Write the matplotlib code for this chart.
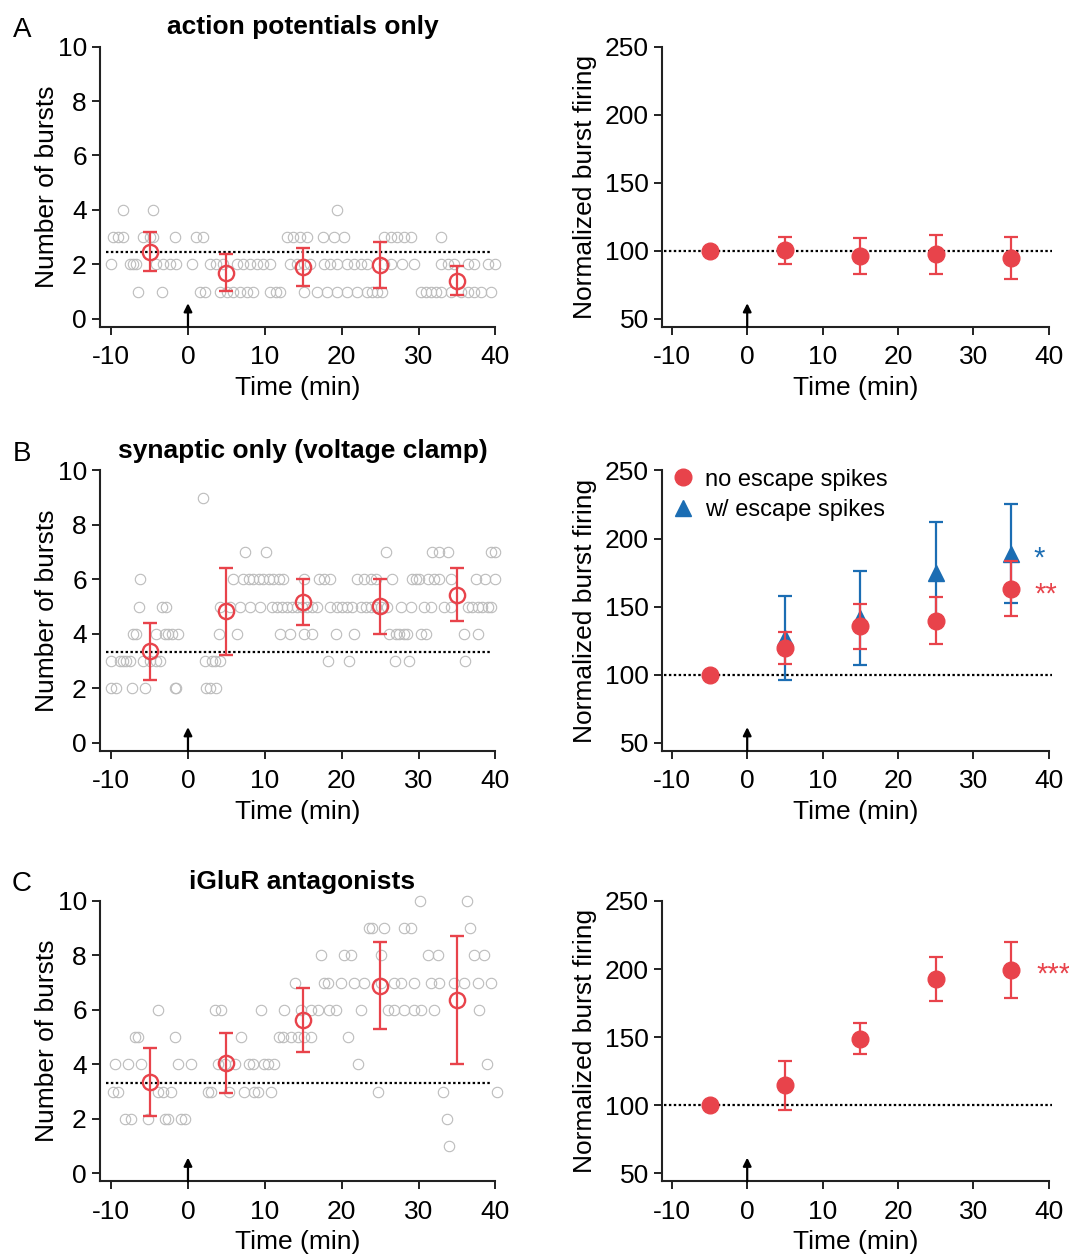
import matplotlib
matplotlib.use("Agg")
import matplotlib.pyplot as plt
from matplotlib.lines import Line2D

plt.rcParams['font.family'] = ['Liberation Sans', 'DejaVu Sans']
plt.rcParams['axes.unicode_minus'] = False

RED = '#E8434B'
BLUE = '#1B6DB3'
GRAY = '#bcbcbc'

# time points (min) of the binned means
times = [-5, 5, 15, 25, 35]
esc_times = [5, 15, 25, 35]

# individual recordings: burst count -> time points
a_points = {
    4: [-8.4, -4.5, 19.4],
    3: [-9.8, -9.1, -8.4, -5.8, -5.0, -4.5, -1.7, 1.1, 2.0, 12.9, 13.7, 14.6, 15.5, 17.5,
        19.0, 20.3, 25.5, 26.4, 27.2, 28.1, 29.0, 32.9],
    2: [-10.0, -7.6, -7.1, -6.7, -4.1, -3.2, -2.4, -1.5, 0.5, 2.9, 3.7, 4.6, 6.4, 7.2, 8.1,
        9.0, 9.8, 10.7, 13.3, 14.2, 15.1, 15.9, 17.7, 18.5, 19.4, 20.7, 21.6, 22.5, 23.3,
        25.5, 26.4, 27.9, 29.4, 32.9, 33.8, 34.6, 36.4, 37.2, 39.0, 39.9],
    1: [-6.5, -3.4, 1.6, 2.2, 4.2, 5.1, 5.9, 6.8, 7.7, 8.5, 10.7, 11.4, 12.0, 15.1, 16.8,
        18.1, 19.4, 20.7, 22.0, 23.3, 24.0, 24.6, 25.3, 30.3, 30.9, 31.6, 32.2, 32.9, 34.2,
        35.5, 36.4, 37.2, 38.1, 39.4],
}
b_points = {
    9: [1.9],
    7: [7.4, 10.1, 25.7, 31.8, 32.7, 33.8, 39.4, 40.0],
    6: [-6.2, 5.9, 7.2, 7.9, 8.5, 9.2, 9.8, 10.5, 11.1, 11.8, 12.4, 15.1, 17.0, 17.7, 18.5,
        22.0, 22.9, 23.8, 24.4, 26.6, 29.2, 29.6, 30.1, 31.2, 32.0, 32.7, 34.2, 37.5, 38.6, 39.9],
    5: [-6.4, -3.4, -2.8, 4.2, 5.5, 6.8, 8.1, 9.4, 10.9, 11.6, 12.2, 12.9, 13.5, 14.2, 14.8,
        15.5, 16.1, 16.8, 18.5, 19.4, 20.1, 20.7, 21.4, 22.5, 23.1, 23.8, 24.4, 25.1, 25.9,
        27.7, 29.0, 30.7, 31.6, 33.3, 34.2, 36.4, 37.0, 37.7, 38.3, 39.0, 39.4],
    4: [-7.1, -6.7, -4.1, -3.0, -2.6, -2.1, -1.3, 4.0, 6.4, 12.0, 13.3, 15.1, 16.1, 19.2,
        21.6, 26.1, 27.0, 27.5, 28.1, 28.5, 30.3, 30.9, 35.9, 37.7],
    3: [-10.0, -8.9, -8.4, -8.0, -7.6, -5.8, -5.0, -4.1, -3.7, 2.2, 3.1, 3.5, 4.2, 18.2,
        20.9, 26.9, 28.8, 36.0],
    2: [-10.0, -9.3, -7.3, -5.6, -1.7, -1.5, 2.4, 2.9, 3.7],
}
c_points = {
    10: [30.2, 36.3],
    9: [23.6, 24.0, 25.5, 28.1, 29.0, 36.7],
    8: [17.3, 20.3, 21.2, 25.1, 31.2, 32.5, 37.2, 38.5],
    7: [13.9, 17.7, 18.2, 19.9, 21.6, 22.9, 25.1, 26.8, 27.7, 29.4, 31.6, 32.7, 34.6, 35.9,
        37.7, 39.4],
    6: [-3.9, 3.5, 4.3, 9.5, 12.5, 14.7, 16.0, 16.9, 18.4, 19.3, 22.5, 26.0, 26.8, 28.1,
        29.4, 30.3, 32.0, 37.9],
    5: [-6.9, -6.5, -1.7, 6.9, 11.9, 12.3, 13.4, 14.3, 15.1, 16.0, 20.8],
    4: [-9.5, -7.8, -6.1, -1.3, 0.4, 3.9, 4.8, 6.1, 8.0, 8.4, 9.9, 10.4, 11.2, 22.1, 38.9],
    3: [-9.7, -9.1, -3.9, -3.2, -2.2, 2.6, 3.0, 5.4, 7.3, 8.6, 9.1, 10.8, 24.7, 33.2, 40.2],
    2: [-8.2, -7.4, -5.2, -3.0, -2.6, -0.9, -0.4, 33.7],
    1: [34.0],
}

# binned means +/- error (number of bursts)
a_mean = [2.47, 1.70, 1.89, 1.98, 1.40]
a_err = [0.72, 0.69, 0.70, 0.83, 0.53]
b_mean = [3.36, 4.83, 5.16, 5.01, 5.44]
b_err = [1.05, 1.60, 0.85, 1.02, 0.98]
c_mean = [3.36, 4.06, 5.62, 6.89, 6.35]
c_err = [1.25, 1.10, 1.17, 1.60, 2.35]
baselines = [2.47, 3.33, 3.30]

# normalized burst firing (%)
a_norm = [100, 100.3, 96.1, 97.3, 94.6]
a_norm_err = [0, 10.1, 13.2, 14.6, 15.3]
b_norm = [100, 119.6, 135.5, 139.7, 163.0]
b_norm_err = [0, 11.9, 16.7, 17.1, 20.2]
b_esc = [127.0, 141.7, 174.8, 189.0]
b_esc_err = [30.8, 34.5, 37.5, 36.5]
c_norm = [100, 114.5, 148.8, 192.8, 199.2]
c_norm_err = [0, 18.0, 11.3, 16.4, 20.7]

titles = ['action potentials only', 'synaptic only (voltage clamp)', 'iGluR antagonists']
letters = ['A', 'B', 'C']

FS = 19
fig = plt.figure(figsize=(10.69, 12.55), dpi=100)

bottoms = [0.7394, 0.4016, 0.0586]
H = 0.2235


def style(ax):
    for s in ['top', 'right']:
        ax.spines[s].set_visible(False)
    for s in ['left', 'bottom']:
        ax.spines[s].set_linewidth(1.5)
        ax.spines[s].set_color('#222222')
    ax.tick_params(direction='out', length=6, width=1.4, labelsize=FS, color='#222222')
    ax.tick_params(axis='x', pad=7)
    ax.set_xticks([-10, 0, 10, 20, 30, 40])
    ax.set_xlabel('Time (min)', fontsize=FS, labelpad=5)


def arrow(ax):
    ax.annotate('', xy=(0, 0.085), xytext=(0, 0.0),
                xycoords=('data', 'axes fraction'), textcoords=('data', 'axes fraction'),
                arrowprops=dict(arrowstyle='-|>', color='black', lw=1.6,
                                mutation_scale=12, shrinkA=0, shrinkB=0))


left_sets = [(a_points, a_mean, a_err), (b_points, b_mean, b_err), (c_points, c_mean, c_err)]
right_sets = [(a_norm, a_norm_err), (b_norm, b_norm_err), (c_norm, c_norm_err)]

for i in range(3):
    # left: individual counts
    ax = fig.add_axes([0.0935, bottoms[i], 0.370, H])
    style(ax)
    pts, mean, err = left_sets[i]
    for count, tlist in pts.items():
        ax.plot(tlist, [count] * len(tlist), 'o', mfc='none', mec=GRAY, ms=7.5, mew=0.8,
                zorder=1, clip_on=False)
    ax.plot([-10.7, 39.5], [baselines[i]] * 2, color='black', lw=1.6,
            linestyle=(0, (1.1, 1.1)), zorder=2)
    ax.errorbar(times, mean, yerr=err, fmt='o', mfc='none', mec=RED, mew=1.7, ms=11,
                ecolor=RED, elinewidth=1.6, capsize=5, capthick=1.6, zorder=3)
    ax.set_xlim(-11.45, 40)
    ax.set_ylim(-0.3, 10)
    ax.set_yticks(range(0, 11, 2))
    ax.set_ylabel('Number of bursts', fontsize=FS, labelpad=-1)
    arrow(ax)

    # right: normalized firing
    ax2 = fig.add_axes([0.6193, bottoms[i], 0.3617, H])
    style(ax2)
    ax2.plot([-11, 40.5], [100, 100], color='black', lw=1.6,
             linestyle=(0, (1.1, 1.1)), zorder=1, clip_on=False)
    if i == 1:
        ax2.errorbar(esc_times, b_esc, yerr=b_esc_err, fmt='^', color=BLUE, ms=12,
                     elinewidth=1.6, capsize=5, capthick=1.6, zorder=2)
    vals, verr = right_sets[i]
    ax2.errorbar(times, vals, yerr=verr, fmt='o', color=RED, ms=12,
                 elinewidth=1.6, capsize=5, capthick=1.6, zorder=3)
    ax2.set_xlim(-11.3, 40)
    ax2.set_ylim(44, 250)
    ax2.set_yticks([50, 100, 150, 200, 250])
    ax2.set_ylabel('Normalized burst firing', fontsize=FS, labelpad=6)
    arrow(ax2)

    if i == 1:
        handles = [Line2D([], [], marker='o', color=RED, ls='none', ms=12),
                   Line2D([], [], marker='^', color=BLUE, ls='none', ms=12)]
        ax2.legend(handles, ['no escape spikes', 'w/ escape spikes'], loc='upper left',
                   bbox_to_anchor=(0.0, 1.04), frameon=False, fontsize=17,
                   handlelength=1.0, handletextpad=0.4, labelspacing=0.35, borderaxespad=0)
        ax2.text(38.8, 185, '*', color=BLUE, fontsize=21, ha='center', va='center')
        ax2.text(39.6, 159, '**', color=RED, fontsize=21, ha='center', va='center')
    if i == 2:
        ax2.text(40.6, 196, '***', color=RED, fontsize=21, ha='center', va='center')

    top = bottoms[i] + H
    fig.text(0.0205, top + 0.0135, letters[i], fontsize=FS + 1, ha='center', va='center')
    fig.text(0.283, top + 0.0155, titles[i], fontsize=FS, fontweight='bold',
             ha='center', va='center')

fig.savefig('out.png', dpi=100)
